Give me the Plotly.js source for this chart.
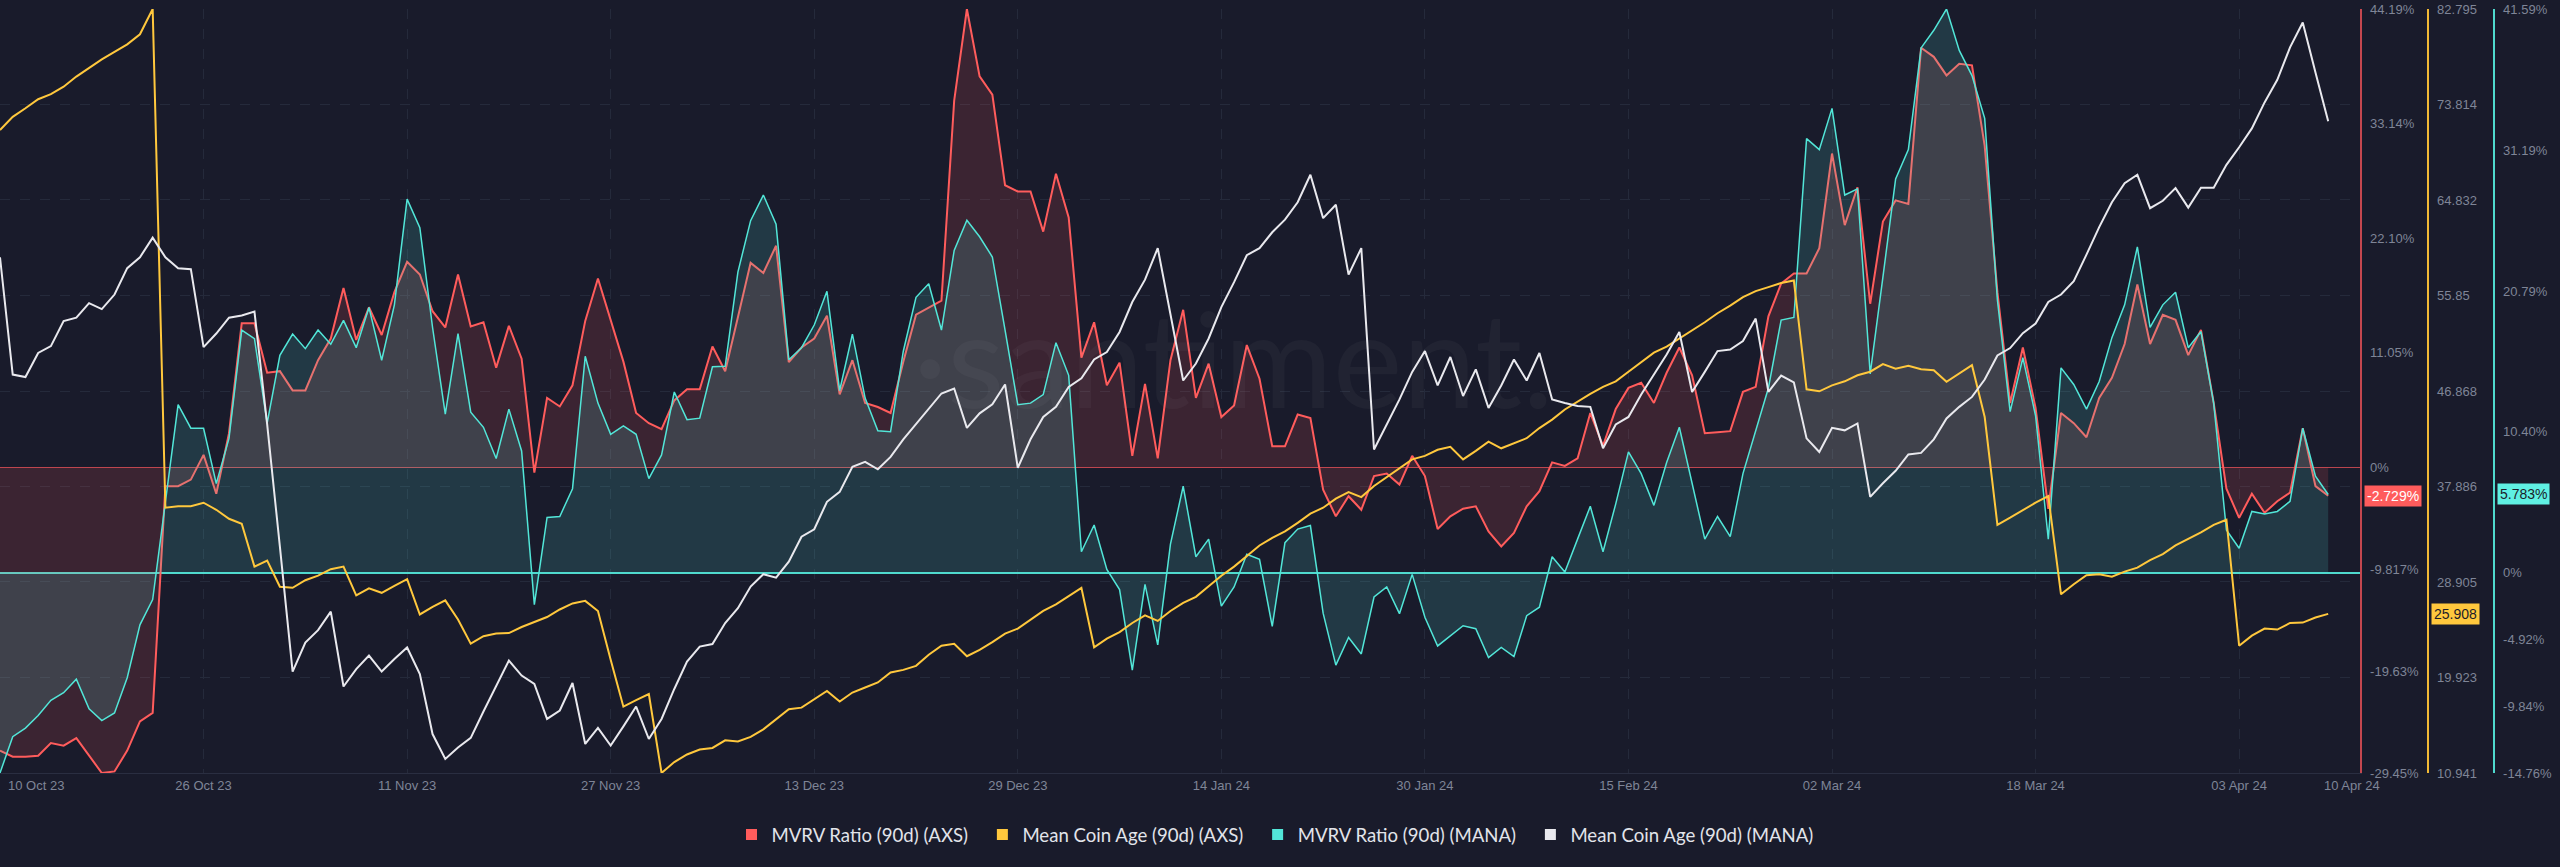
<!DOCTYPE html>
<html>
<head>
<meta charset="utf-8">
<script src="https://cdn.plot.ly/plotly-3.0.1.min.js"></script>
<style>
html,body{margin:0;padding:0;background:#191b2b;}
#chart{width:2560px;height:867px;}
</style>
</head>
<body>
<div id="chart"></div>
<script>
// ---------------- DATA ----------------
const startDate = [2023, 9, 10]; // 10 Oct 2023, daily points

const mvrvAXS = [
 -27.29,-27.88,-27.88,-27.78,-26.57,-26.81,-26.08,-27.78,-29.45,-29.30,
 -27.29,-24.48,-23.65,-1.80,-1.80,-1.17,1.21,-2.53,3.30,13.89,
 13.89,9.13,9.28,7.43,7.43,10.34,12.43,17.29,12.29,15.44,
 12.77,16.90,19.82,18.60,15.06,13.50,18.60,13.60,13.99,9.62,
 13.65,10.49,-0.49,6.70,5.88,7.92,14.13,18.21,14.23,10.20,
 5.25,4.27,3.69,6.46,7.53,7.53,11.66,9.28,14.47,19.72,
 18.75,21.37,10.15,11.56,12.43,14.62,7.04,10.34,6.22,5.83,
 5.25,10.20,14.72,15.44,16.08,35.36,44.19,37.69,35.94,27.20,
 26.61,26.61,22.73,28.31,24.09,10.59,13.99,7.92,10.10,1.12,
 8.06,0.87,10.34,15.20,6.70,10.00,4.86,5.97,11.80,8.55,
 2.04,2.04,5.10,4.76,-2.14,-4.71,-2.77,-4.08,-0.83,-0.58,
 -1.65,1.12,-0.83,-5.93,-4.71,-3.98,-3.74,-6.17,-7.62,-6.31,
 -3.74,-2.28,0.49,0.15,0.87,5.25,2.09,5.63,7.67,8.16,
 6.22,9.13,11.56,8.89,3.30,3.40,3.50,7.29,7.77,14.57,
 17.73,18.70,18.70,21.13,30.26,23.36,27.00,15.78,23.70,25.74,
 25.40,40.46,39.58,37.79,38.90,38.76,30.99,16.90,6.22,11.56,
 5.73,-3.98,5.25,4.27,2.91,6.70,8.64,11.90,17.63,11.90,
 14.72,14.23,10.83,13.26,6.22,-2.04,-4.86,-2.53,-4.37,-3.25,
 -2.43,3.79,-1.80,-2.729
];

const coinAgeAXS = [
 71.42,72.65,73.46,74.31,74.78,75.49,76.44,77.24,78.05,78.76,
 79.47,80.42,82.795,35.89,36.03,36.03,36.36,35.70,34.85,34.38,
 30.35,30.92,28.46,28.36,29.07,29.50,30.11,30.35,27.65,28.31,
 27.89,28.55,29.17,25.85,26.56,27.18,25.38,23.10,23.81,24.05,
 24.10,24.67,25.14,25.61,26.32,26.89,27.13,26.18,21.59,17.18,
 17.80,18.37,10.941,11.97,12.68,13.15,13.30,14.01,13.91,14.34,
 15.05,16.00,16.94,17.09,17.89,18.65,17.66,18.51,18.98,19.46,
 20.40,20.64,21.02,22.06,22.91,23.10,21.92,22.53,23.25,24.05,
 24.52,25.38,26.18,26.80,27.60,28.36,22.77,23.58,24.19,25.05,
 25.76,25.24,26.18,26.94,27.51,28.55,29.50,30.35,31.39,32.34,
 33.05,33.67,34.47,35.33,35.89,36.75,37.36,36.89,37.93,38.74,
 39.59,40.44,40.77,41.34,41.62,40.44,41.24,42.10,41.48,41.96,
 42.43,43.38,44.18,45.13,45.89,46.60,47.26,47.78,48.68,49.54,
 50.48,51.05,51.81,52.62,53.33,54.18,54.89,55.70,56.26,56.64,
 57.02,57.26,47.03,46.84,47.40,47.78,48.35,48.68,49.39,48.97,
 49.25,48.92,48.83,47.74,48.49,49.30,44.42,34.28,34.95,35.66,
 36.37,36.98,27.75,28.69,29.55,29.64,29.40,29.88,30.26,30.97,
 31.53,32.34,32.96,33.57,34.28,34.76,22.91,23.86,24.52,24.43,
 25.05,25.09,25.56,25.908
];

const mvrvMANA = [
 -14.76,-12.08,-11.45,-10.52,-9.40,-8.84,-7.84,-10.03,-10.89,-10.33,
 -7.73,-3.83,-1.97,5.09,12.41,10.67,10.67,6.58,9.92,17.91,
 17.28,11.04,16.05,17.61,16.54,17.91,16.87,18.62,16.61,19.58,
 15.68,19.77,27.57,25.46,18.10,11.71,17.65,11.85,10.74,8.44,
 12.08,8.99,-2.34,4.09,4.16,6.21,15.98,12.52,10.22,10.85,
 10.22,6.95,8.70,13.34,11.30,11.41,15.20,15.24,22.19,25.98,
 27.87,25.72,15.72,16.61,18.28,20.77,13.45,17.61,12.89,10.48,
 10.41,16.35,20.33,21.33,17.91,23.78,26.01,24.79,23.30,17.91,
 12.41,12.52,13.15,16.98,14.57,1.56,3.53,0.26,-1.23,-7.17,
 -0.85,-5.31,2.12,6.39,1.19,2.49,-2.45,-1.04,1.37,1.00,
 -3.94,2.23,3.23,3.49,-2.97,-6.80,-4.76,-5.98,-1.78,-1.04,
 -3.01,-0.11,-3.27,-5.39,-4.65,-3.90,-4.12,-6.24,-5.50,-6.17,
 -3.16,-2.53,1.19,0.07,2.49,4.91,1.56,5.09,8.92,7.32,
 4.98,8.14,10.74,6.58,2.49,4.16,2.68,7.32,10.48,13.64,
 18.65,18.84,32.03,31.22,34.26,27.87,28.32,14.68,21.81,29.06,
 31.22,38.72,40.02,41.59,38.54,36.68,33.52,20.14,11.89,15.87,
 11.59,2.49,15.12,13.90,12.08,14.12,17.35,19.77,24.04,18.10,
 19.77,20.70,16.61,17.80,12.52,3.16,1.82,4.53,4.35,4.53,
 5.28,10.67,7.14,5.783
];

const coinAgeMANA = [
 47.00,40.86,40.73,41.99,42.35,43.66,43.84,44.60,44.29,45.05,
 46.43,47.00,48.03,47.00,46.43,46.38,42.30,43.01,43.84,43.95,
 44.16,38.25,31.85,25.31,26.83,27.48,28.45,24.53,25.44,26.15,
 25.31,25.97,26.57,25.18,22.04,20.74,21.34,21.84,23.22,24.53,
 25.89,25.10,24.66,22.83,23.27,24.71,21.52,22.36,21.44,22.44,
 23.48,21.78,22.83,24.40,25.83,26.62,26.75,27.85,28.63,29.76,
 30.41,30.23,31.06,32.37,32.76,34.20,34.72,36.03,36.29,35.90,
 36.55,37.47,38.25,39.09,39.87,40.13,38.07,38.83,39.30,40.34,
 35.98,37.47,38.64,39.17,40.21,40.66,41.65,42.04,43.09,44.66,
 45.83,47.48,44.00,40.55,41.44,42.75,44.39,45.70,47.11,47.48,
 48.31,48.97,49.88,51.32,49.05,49.75,46.09,47.48,36.94,38.25,
 39.56,41.00,42.09,40.29,41.78,39.74,41.13,39.11,40.29,41.65,
 40.55,41.99,39.56,39.37,39.22,39.17,37.00,38.25,38.64,39.82,
 40.86,41.91,43.09,39.95,41.00,42.09,42.17,42.62,43.79,39.95,
 40.81,40.45,37.52,36.81,38.07,37.94,38.30,34.46,35.17,35.82,
 36.68,36.76,37.47,38.56,39.17,39.69,40.60,41.86,42.25,43.03,
 43.53,44.66,45.05,45.75,47.14,48.58,49.88,50.88,51.32,49.57,
 49.96,50.62,49.60,50.64,50.64,51.84,52.76,53.75,55.11,56.29,
 57.99,59.29,56.68,54.12
];

const seriesNames = ['MVRV Ratio (90d) (AXS)', 'Mean Coin Age (90d) (AXS)', 'MVRV Ratio (90d) (MANA)', 'Mean Coin Age (90d) (MANA)'];

const xTickDates = ['2023-10-10','2023-10-26','2023-11-11','2023-11-27','2023-12-13','2023-12-29','2024-01-14','2024-01-30','2024-02-15','2024-03-02','2024-03-18','2024-04-03'];
const xTickLabels = ['', '26 Oct 23','11 Nov 23','27 Nov 23','13 Dec 23','29 Dec 23','14 Jan 24','30 Jan 24','15 Feb 24','02 Mar 24','18 Mar 24','03 Apr 24'];
const firstDateLabel = '10 Oct 23';
const lastDateLabel = '10 Apr 24';

const redTickVals = [44.19, 33.14, 22.10, 11.05, 0, -9.817, -19.63, -29.45];
const redTickText = ['44.19%','33.14%','22.10%','11.05%','0%','-9.817%','-19.63%','-29.45%'];
const yellowTickVals = [82.795, 73.814, 64.832, 55.85, 46.868, 37.886, 28.905, 19.923, 10.941];
const yellowTickText = ['82.795','73.814','64.832','55.85','46.868','37.886','28.905','19.923','10.941'];
const cyanTickVals = [41.59, 31.19, 20.79, 10.40, 0, -4.92, -9.84, -14.76];
const cyanTickText = ['41.59%','31.19%','20.79%','10.40%','0%','-4.92%','-9.84%','-14.76%'];

// ---------------- BUILD ----------------
const dates = mvrvAXS.map((_, i) => {
  const d = new Date(Date.UTC(startDate[0], startDate[1], startDate[2] + i));
  return d.toISOString().slice(0, 10);
});

const RED = '#ff5c5c', YEL = '#ffc83d', CYA = '#52e6d8', WHT = '#e9e9ee';
const BG = '#191b2b';
const tickFont = {family: 'Liberation Sans, Arial, sans-serif', size: 13, color: '#7f8597'};
const badgeFont = 'Liberation Sans, Arial, sans-serif';
const gridColor = '#252a3b';

const traces = [
  {type:'scatter', mode:'lines', x:dates, y:mvrvAXS, xaxis:'x', yaxis:'y', name:seriesNames[0],
   line:{color:RED, width:2}, fill:'tozeroy', fillcolor:'rgba(255,92,92,0.15)', showlegend:false, hoverinfo:'skip'},
  {type:'scatter', mode:'lines', x:dates, y:mvrvMANA, xaxis:'x', yaxis:'y2', name:seriesNames[2],
   line:{color:CYA, width:1.5}, fill:'tozeroy', fillcolor:'rgba(84,236,222,0.15)', showlegend:false, hoverinfo:'skip'},
  {type:'scatter', mode:'lines', x:dates, y:coinAgeAXS, xaxis:'x', yaxis:'y3', name:seriesNames[1],
   line:{color:YEL, width:2}, showlegend:false, hoverinfo:'skip'},
  {type:'scatter', mode:'lines', x:dates, y:coinAgeMANA, xaxis:'x', yaxis:'y4', name:seriesNames[3],
   line:{color:WHT, width:2}, showlegend:false, hoverinfo:'skip'},
];
// legend entries (square swatches)
[RED, YEL, CYA, WHT].forEach((c, i) => {
  traces.push({type:'scatter', mode:'markers', x:[null], y:[null], xaxis:'x', yaxis:'y',
    name:seriesNames[i] + '\u2002', marker:{symbol:'square', size:11, color:c}, showlegend:true, hoverinfo:'skip'});
});

const lastRed = mvrvAXS[mvrvAXS.length-1];
const lastYel = coinAgeAXS[coinAgeAXS.length-1];
const lastCya = mvrvMANA[mvrvMANA.length-1];

const X_END = 2360/2560, Y_YEL = 2427/2560, Y_CYA = 2493/2560;

const layout = {
  width: 2560, height: 867,
  paper_bgcolor: BG, plot_bgcolor: BG,
  margin: {l:0, r:0, t:9, b:94},
  hovermode: false,
  showlegend: true,
  legend: {orientation:'h', x:0.5, xanchor:'center', yref:'container', y:0.037, yanchor:'middle',
    font:{family:'Lato, sans-serif', size:18.6, color:'#e2e4ea'}, itemwidth:30, bgcolor:'rgba(0,0,0,0)', traceorder:'normal'},
  xaxis: {type:'date', domain:[0, X_END], range:['2023-10-10', '2024-04-12 12:00'],
    tickmode:'array', tickvals:xTickDates, ticktext:xTickLabels, ticks:'',
    showgrid:true, gridcolor:gridColor, griddash:'10px,10px', gridwidth:1,
    showline:true, linecolor:'#2a2e41', linewidth:1, zeroline:false, tickfont:tickFont, fixedrange:true},
  yaxis: {range:[-29.45, 44.19], side:'right', anchor:'x', tickmode:'array', tickvals:redTickVals, ticktext:redTickText,
    showgrid:false, zeroline:true, zerolinecolor:'rgba(226,80,88,0.8)', zerolinewidth:1.5,
    showline:true, linecolor:'#c4474f', linewidth:1.5, ticks:'', ticklabelstandoff:6, tickfont:tickFont, fixedrange:true},
  yaxis2: {range:[-14.76, 41.59], overlaying:'y', side:'right', anchor:'free', position:Y_CYA,
    tickmode:'array', tickvals:cyanTickVals, ticktext:cyanTickText,
    showgrid:false, zeroline:true, zerolinecolor:'#4fd9cd', zerolinewidth:1.5,
    showline:true, linecolor:'#4fd9cd', linewidth:1.5, ticks:'', ticklabelstandoff:6, tickfont:tickFont, fixedrange:true},
  yaxis3: {range:[10.941, 82.795], overlaying:'y', side:'right', anchor:'free', position:Y_YEL,
    tickmode:'array', tickvals:yellowTickVals, ticktext:yellowTickText,
    showgrid:true, gridcolor:gridColor, griddash:'10px,10px', zeroline:false,
    showline:true, linecolor:'#f2b935', linewidth:1.5, ticks:'', ticklabelstandoff:6, tickfont:tickFont, fixedrange:true},
  yaxis4: {range:[20, 60], overlaying:'y', visible:false, fixedrange:true},
  annotations: [
    {xref:'paper', yref:'paper', x:0.482, y:0.545, text:'·santiment.', showarrow:false,
     font:{family:'Lato, sans-serif', size:132, color:'rgba(255,255,255,0.035)'}},
    {xref:'x', yref:'paper', x:dates[0], y:-0.017, xanchor:'left', yanchor:'middle', xshift:6,
     text:firstDateLabel, showarrow:false, font:tickFont},
    {xref:'x', yref:'paper', x:dates[dates.length-1], y:-0.017, xanchor:'center', yanchor:'middle', xshift:24,
     text:lastDateLabel, showarrow:false, font:tickFont},
    {xref:'paper', yref:'y', x:X_END, y:lastRed, xanchor:'left', yanchor:'middle', xshift:4,
     text:lastRed.toFixed(3)+'%', showarrow:false, bgcolor:RED, borderpad:2,
     font:{family:badgeFont, size:14, color:'#ffffff'}},
    {xref:'paper', yref:'y3', x:Y_YEL, y:lastYel, xanchor:'left', yanchor:'middle', xshift:4,
     text:lastYel.toFixed(3), showarrow:false, bgcolor:YEL, borderpad:2,
     font:{family:badgeFont, size:14, color:'#1b1c2a'}},
    {xref:'paper', yref:'y2', x:Y_CYA, y:lastCya, xanchor:'left', yanchor:'middle', xshift:4,
     text:lastCya.toFixed(3)+'%', showarrow:false, bgcolor:'#5ff0e2', borderpad:2,
     font:{family:badgeFont, size:14, color:'#1b1c2a'}},
  ]
};

Plotly.newPlot('chart', traces, layout, {displayModeBar:false, staticPlot:true});
</script>
</body>
</html>
